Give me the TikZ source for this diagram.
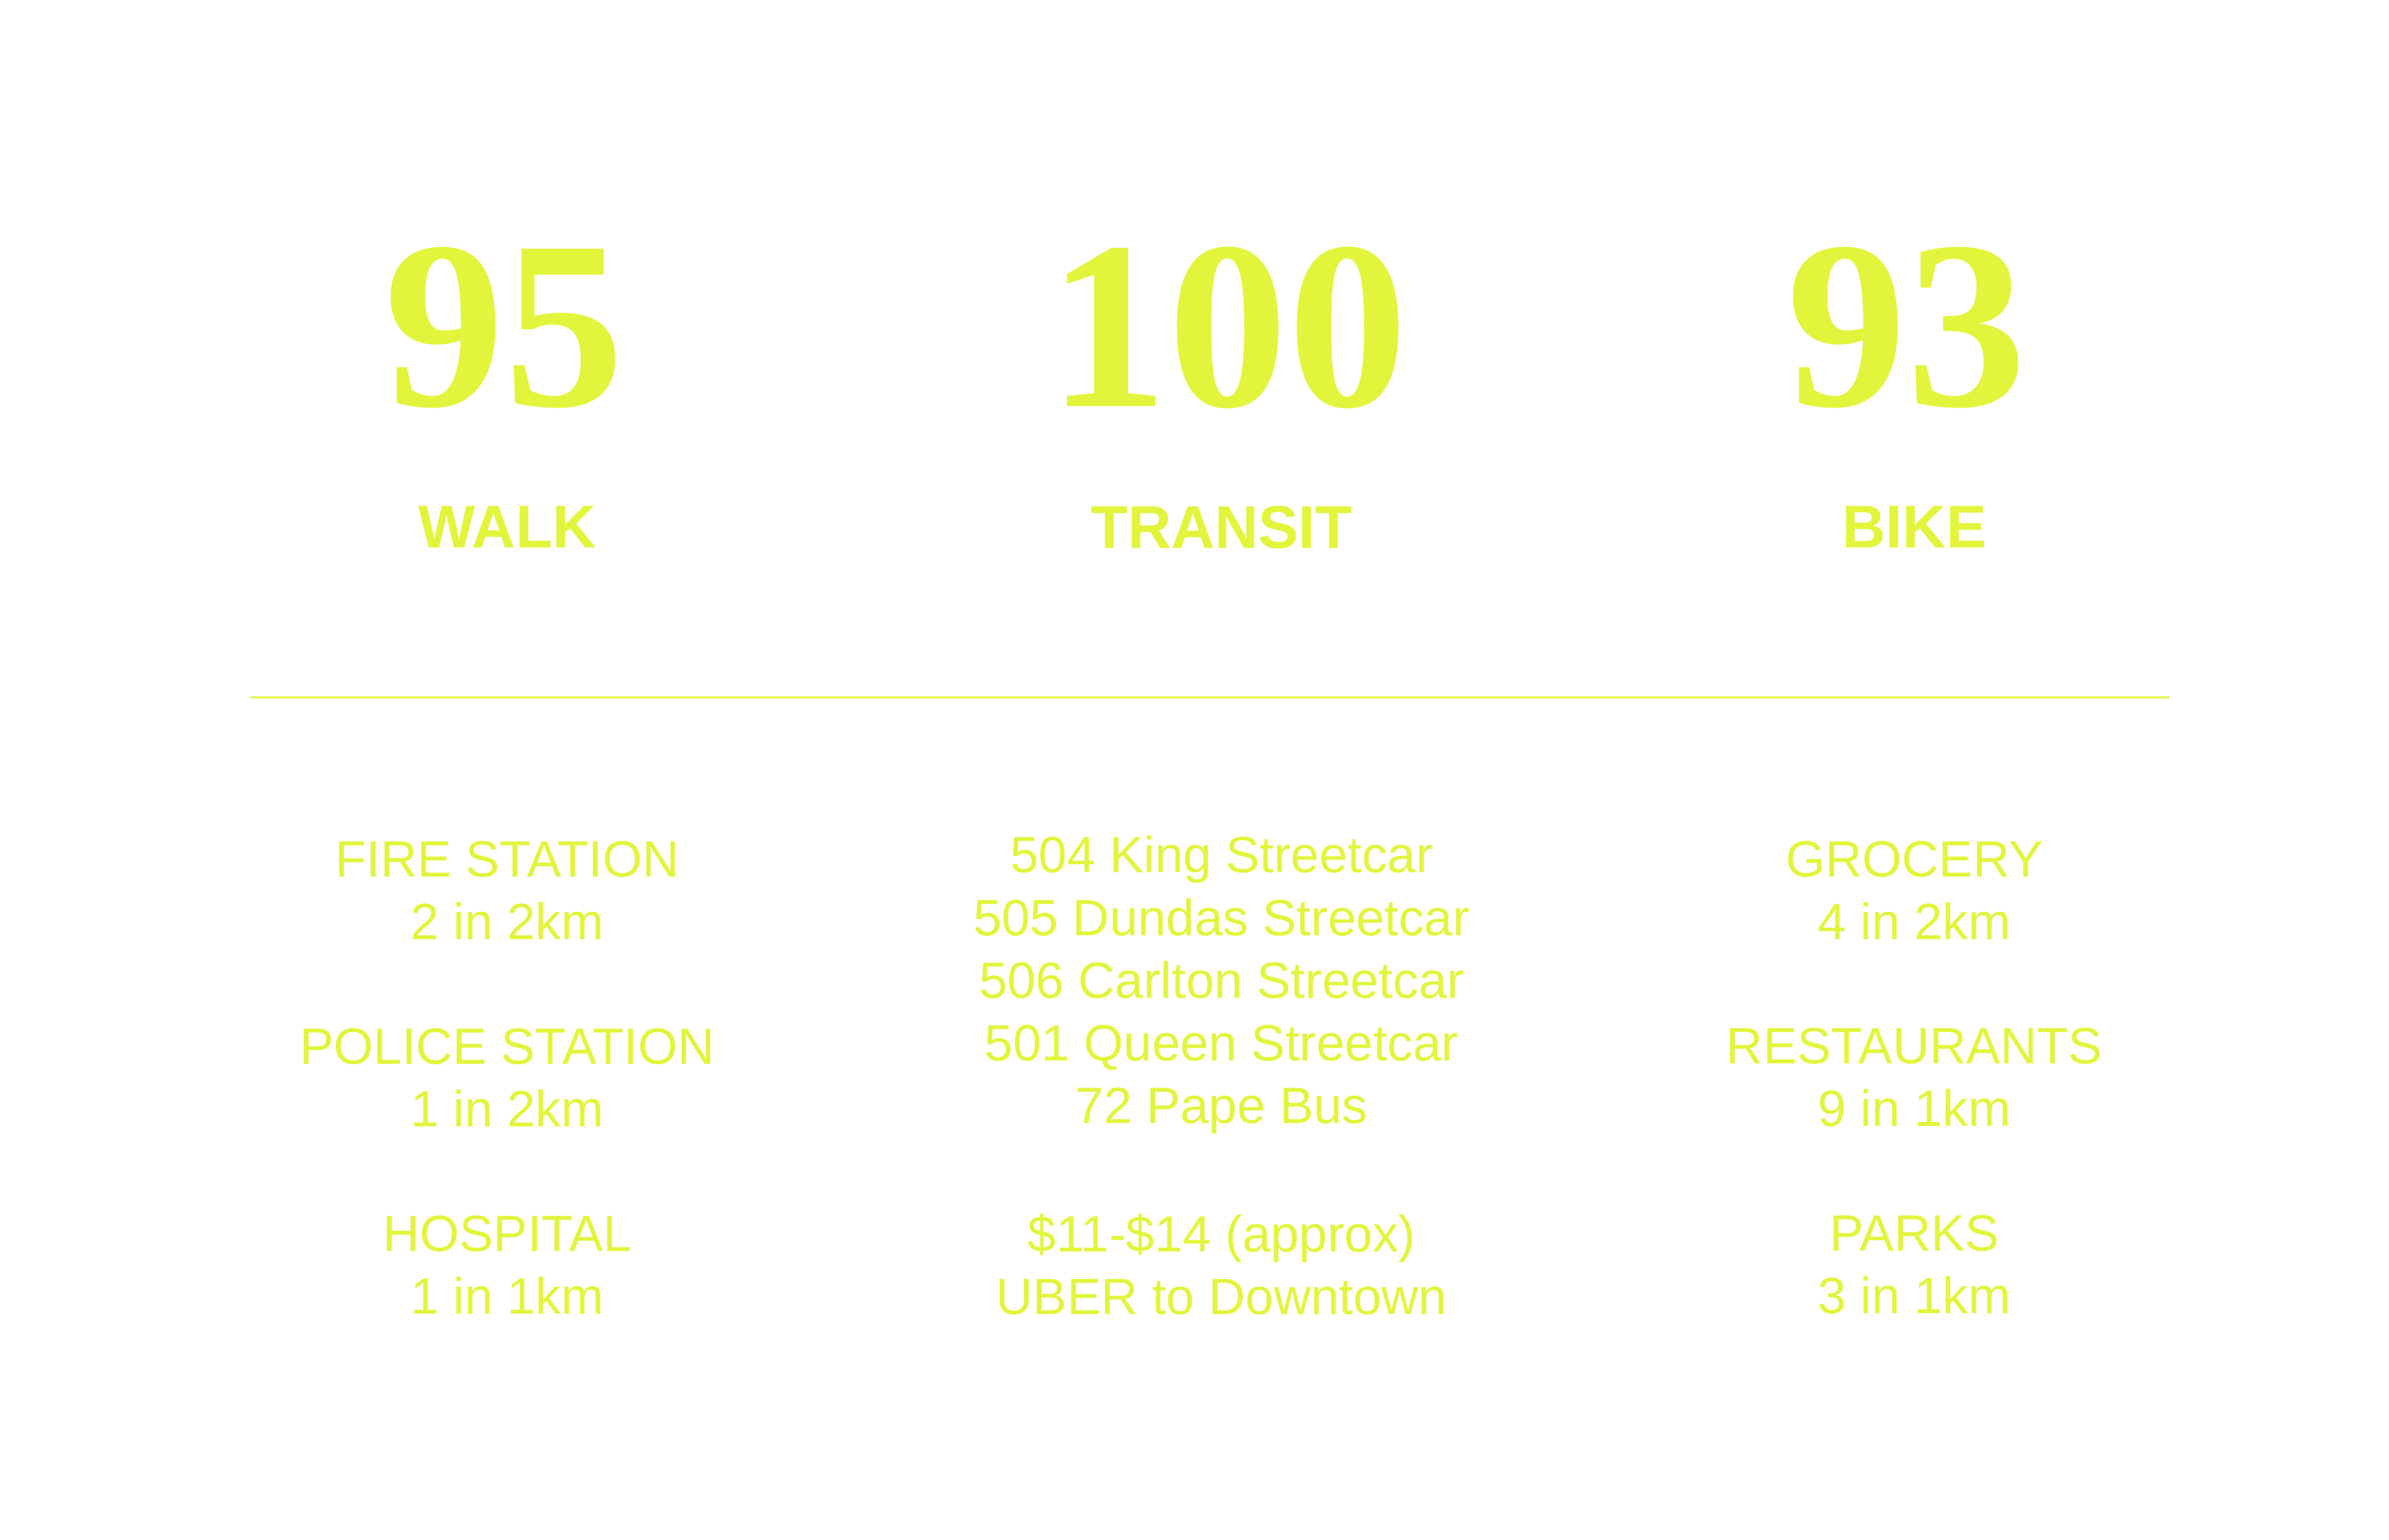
\documentclass[tikz,border=0pt]{standalone}
\usepackage{fontspec}
\setmainfont{Liberation Sans}
\newfontfamily\scorefont{Liberation Serif}
\definecolor{lime}{HTML}{E2F53C}
\tikzset{every picture/.style={line width=0.75pt}}
\tikzset{
  score/.style={text=lime, font=\scorefont\bfseries\fontsize{155}{155}\selectfont, inner sep=0pt},
  mode/.style={text=lime, font=\fontsize{39}{39}\selectfont\bfseries, inner sep=0pt},
  item/.style={text=lime, font=\fontsize{33}{40.5}\selectfont, inner sep=0pt, align=center}
}
\begin{document}
\begin{tikzpicture}[x=1pt,y=1pt,yscale=-1,xscale=1]
\useasboundingbox (0,0) rectangle (1545,996);

% Scores
\node [score] (walkscore) at (326,212) {95};
\node [score] (transitscore) at (794,212) {100};
\node [score] (bikescore) at (1233,212) {93};
% Modes
\node [mode] (walk) at (328,341) {WALK};
\node [mode] (transit) at (790,341) {TRANSIT};
\node [mode] (bike) at (1238,341) {BIKE};
% Divider
\draw [lime, line width=1.2pt] (162,451) -- (1403,451);
% Walk column
\node [item] (fire) at (328,576) {FIRE STATION\\2 in 2km};
\node [item] (police) at (328,697) {POLICE STATION\\1 in 2km};
\node [item] (hospital) at (328,818) {HOSPITAL\\1 in 1km};
% Transit column
\node [item] (routes) at (790,637) {504 King Streetcar\\505 Dundas Streetcar\\506 Carlton Streetcar\\501 Queen Streetcar\\72 Pape Bus};
\node [item] (uber) at (790,818) {\$11-\$14 (approx)\\UBER to Downtown};
% Bike column
\node [item] (grocery) at (1238,576) {GROCERY\\4 in 2km};
\node [item] (restaurants) at (1238,697) {RESTAURANTS\\9 in 1km};
\node [item] (parks) at (1238,818) {PARKS\\3 in 1km};
\end{tikzpicture}
\end{document}
